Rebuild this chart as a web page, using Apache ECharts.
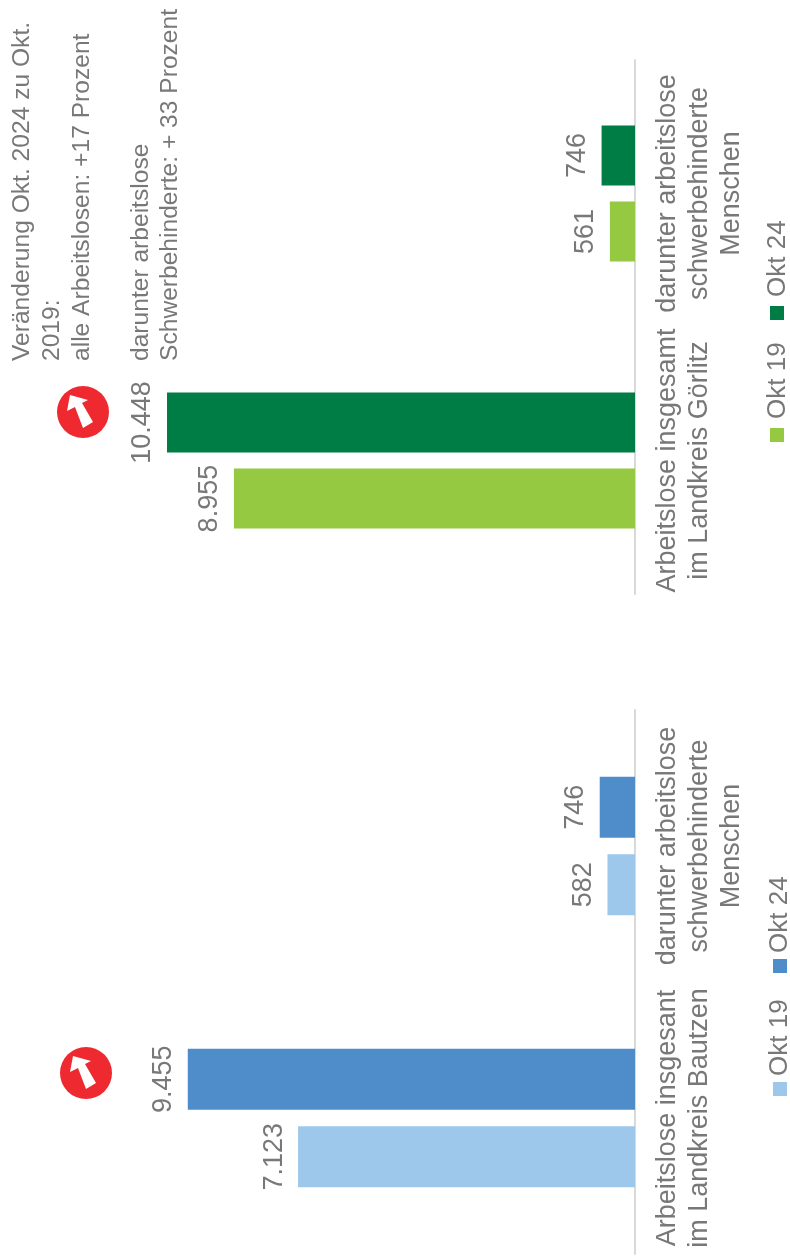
<!DOCTYPE html>
<html><head><meta charset="utf-8">
<style>html,body{margin:0;padding:0;background:#fff}#c{width:790px;height:1259px}</style>
<script src="https://cdn.jsdelivr.net/npm/echarts@6/dist/echarts.min.js"></script>
</head><body><div id="c"></div>
<script>
const categoriesBautzen = ['Arbeitslose insgesant\nim Landkreis Bautzen', 'darunter arbeitslose\nschwerbehinderte\nMenschen'];
const categoriesGoerlitz = ['Arbeitslose insgesamt\nim Landkreis Görlitz', 'darunter arbeitslose\nschwerbehinderte\nMenschen'];
const bautzenOkt19 = [7123, 582];
const bautzenOkt24 = [9455, 746];
const goerlitzOkt19 = [8955, 561];
const goerlitzOkt24 = [10448, 746];
const legendNames = ['Okt 19', 'Okt 24'];
const noteOverall = ['Veränderung Okt. 2024 zu Okt.', '2019:', 'alle Arbeitslosen: +17 Prozent'];
const noteDisabled = ['darunter arbeitslose', 'Schwerbehinderte: + 33 Prozent'];

const FONT = '"Liberation Sans", Arial, sans-serif';
const GREY = '#787878';
const ROT = Math.PI / 2;
const fmt = v => String(v).replace(/\B(?=(\d{3})+$)/g, '.');

function barSeries(name, data, color, idx, bw, gap) {
  return {
    type: 'bar', name, data, xAxisIndex: idx, yAxisIndex: idx,
    barWidth: bw, barGap: gap,
    itemStyle: { color },
    label: {
      show: true, position: 'left', rotate: 90, distance: 24,
      align: 'center', verticalAlign: 'middle',
      formatter: p => fmt(p.value), color: GREY, fontFamily: FONT, fontSize: 27
    }
  };
}
function vAxis(idx, cats) {
  return {
    gridIndex: idx, type: 'category', data: cats, position: 'right',
    axisLine: { show: true, lineStyle: { color: '#d9d9d9', width: 2 } },
    axisTick: { show: false },
    axisLabel: { rotate: 90, color: GREY, fontFamily: FONT, fontSize: 27, lineHeight: 32, margin: 17, interval: 0 }
  };
}
function rotText(x, y, text, size) {
  return { type: 'text', x, y, rotation: ROT, silent: true,
    style: { text, fill: GREY, font: `${size}px ${FONT}`, textAlign: 'left', textVerticalAlign: 'middle' } };
}
function badge(cx, cy) {
  return [
    { type: 'circle', shape: { cx, cy, r: 26 }, style: { fill: '#ee2a30' }, silent: true },
    { type: 'polygon', x: cx, y: cy, silent: true,
      shape: { points: [[-13,-17],[5,-12],[-1,-9],[10,10],[0,16],[-8,-5],[-16,-1]] },
      style: { fill: '#fff' } }
  ];
}
function legendItem(xSq, xTxt, ySq, yTxt, color, text) {
  return [
    { type: 'rect', shape: { x: xSq - 7, y: ySq, width: 14, height: 14 }, style: { fill: color }, silent: true },
    rotText(xTxt, yTxt, text, 26)
  ];
}
const graphicEls = [
  ...noteOverall.map((t, i) => rotText([22, 52, 82][i], 361, t, 24.6)),
  ...noteDisabled.map((t, i) => rotText([141, 170][i], 361, t, 24.6)),
  ...badge(83, 412), ...badge(86, 1073),
  ...legendItem(777, 778, 428, 419, '#95c941', legendNames[0]),
  ...legendItem(777, 778, 306, 297, '#007c45', legendNames[1]),
  ...legendItem(780, 780, 1082, 1076, '#9dc7eb', legendNames[0]),
  ...legendItem(780, 780, 959, 953, '#4f8dca', legendNames[1])
];

const chart = echarts.init(document.getElementById('c'));
chart.setOption({
  animation: false,
  backgroundColor: '#fff',
  grid: [
    { left: 97.5, width: 537.5, top: 60, height: 534 },
    { left: 162, width: 473, top: 710, height: 544 }
  ],
  xAxis: [
    { gridIndex: 0, type: 'value', min: 0, max: 12000, inverse: true, show: false },
    { gridIndex: 1, type: 'value', min: 0, max: 10000, inverse: true, show: false }
  ],
  yAxis: [vAxis(0, categoriesGoerlitz), vAxis(1, categoriesBautzen)],
  series: [
    barSeries(legendNames[1], goerlitzOkt24, '#007c45', 0, 60, '27%'),
    barSeries(legendNames[0], goerlitzOkt19, '#95c941', 0, 60, '27%'),
    barSeries(legendNames[1], bautzenOkt24, '#4f8dca', 1, 61, '27%'),
    barSeries(legendNames[0], bautzenOkt19, '#9dc7eb', 1, 61, '27%')
  ],
  graphic: { elements: graphicEls }
});
</script></body></html>
